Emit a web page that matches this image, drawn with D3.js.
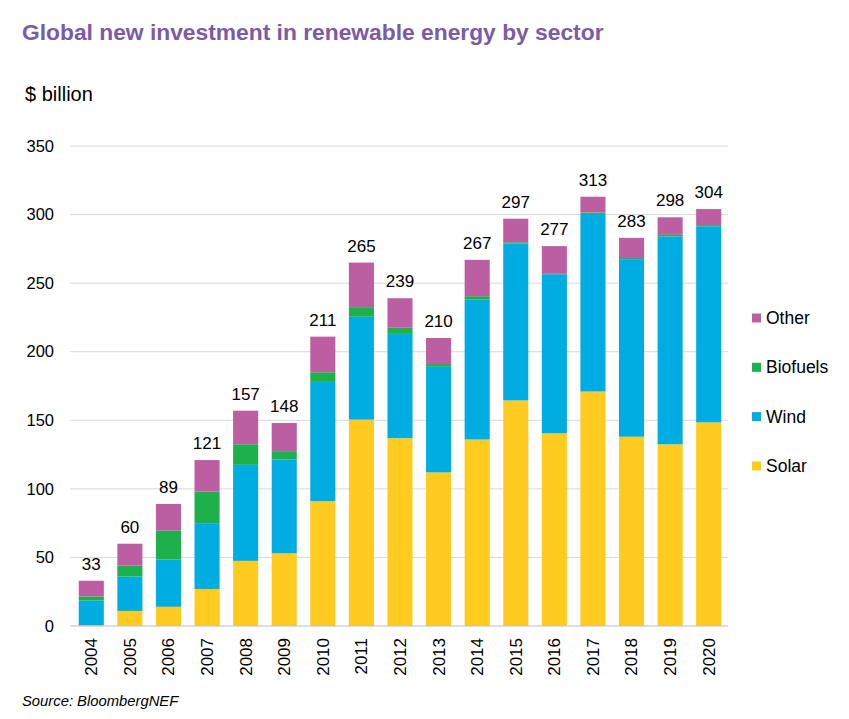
<!DOCTYPE html>
<html><head><meta charset="utf-8">
<script src="https://cdn.jsdelivr.net/npm/d3@7"></script>
<style>body{margin:0;background:#fff;} svg{display:block;font-family:"Liberation Sans",Arial,sans-serif;}</style>
</head><body>
<svg id="c" width="849" height="719"></svg>
<script>
const years = ["2004","2005","2006","2007","2008","2009","2010","2011","2012","2013","2014","2015","2016","2017","2018","2019","2020"];
const solar    = [0.5, 11, 14, 27, 47.5, 53, 91, 150.5, 137, 112, 136, 164.5, 140.5, 171, 138, 132.5, 148.5];
const wind     = [18, 25, 34.5, 48, 70, 68.5, 87, 75, 76, 77, 102, 114.5, 116, 129.5, 129.5, 151.5, 143];
const biofuels = [3, 8, 21, 23, 15, 6, 7, 7, 4.5, 2, 2.5, 0.8, 0.3, 1, 0.8, 1.2, 0.8];
const other    = [11.5, 16, 19.5, 23, 24.5, 20.5, 26, 32.5, 21.5, 19, 26.5, 17.2, 20.2, 11.5, 14.7, 12.8, 11.7];
const totals   = [33, 60, 89, 121, 157, 148, 211, 265, 239, 210, 267, 297, 277, 313, 283, 298, 304];
const yTicks   = [0, 50, 100, 150, 200, 250, 300, 350];
const seriesNames = ["Solar", "Wind", "Biofuels", "Other"];
const seriesColors = ["#FECB1E", "#00ADE3", "#1DB04B", "#BC5EA2"];

const svg = d3.select("#c");
const x = d3.scaleBand().domain(years).range([72, 728]).paddingInner(0.35).paddingOuter(0.175);
const y = d3.scaleLinear().domain([0, 350]).range([626, 146]);

const rows = years.map((yr, i) => ({year: yr, Solar: solar[i], Wind: wind[i], Biofuels: biofuels[i], Other: other[i]}));
const stack = d3.stack().keys(seriesNames)(rows);

// gridlines
svg.append("g").selectAll("line").data(yTicks.filter(d => d > 0)).join("line")
  .attr("x1", 70).attr("x2", 728).attr("y1", d => y(d)).attr("y2", d => y(d))
  .attr("stroke", "#d9d9d9").attr("stroke-width", 1);

// y axis
const yAxis = svg.append("g").attr("transform", "translate(54,0)")
  .call(d3.axisLeft(y).tickValues(yTicks).tickSize(0).tickPadding(0));
yAxis.select(".domain").remove();
yAxis.selectAll("text").attr("font-size", 16.5).attr("fill", "#000").attr("font-family", "Liberation Sans, Arial, sans-serif");

// bars
svg.append("g").selectAll("g").data(stack).join("g")
  .attr("fill", (d, i) => seriesColors[i])
  .selectAll("rect").data(d => d).join("rect")
  .attr("x", d => x(d.data.year))
  .attr("width", x.bandwidth())
  .attr("y", d => y(d[1]))
  .attr("height", d => Math.max(0, y(d[0]) - y(d[1])));

// baseline
svg.append("line").attr("x1", 70).attr("x2", 728).attr("y1", y(0)).attr("y2", y(0))
  .attr("stroke", "#bfbfbf").attr("stroke-width", 1);

// x axis labels
const xAxis = svg.append("g").attr("transform", `translate(0,${y(0)})`)
  .call(d3.axisBottom(x).tickSize(0).tickPadding(0));
xAxis.select(".domain").remove();
xAxis.selectAll("text")
  .attr("font-size", 17).attr("fill", "#000").attr("font-family", "Liberation Sans, Arial, sans-serif")
  .attr("transform", "rotate(-90)")
  .attr("text-anchor", "end")
  .attr("dy", "0.35em")
  .attr("x", -12).attr("y", 0);

// totals
svg.append("g").selectAll("text").data(years).join("text")
  .attr("x", d => x(d) + x.bandwidth() / 2)
  .attr("y", (d, i) => y(totals[i]) - 11)
  .attr("text-anchor", "middle").attr("font-size", 17).attr("fill", "#000")
  .text((d, i) => totals[i]);

// title
svg.append("text").attr("x", 22).attr("y", 40).attr("font-size", 22.8).attr("font-weight", "bold")
  .attr("fill", "#7B5AA8").text("Global new investment in renewable energy by sector");
svg.append("text").attr("x", 25).attr("y", 101).attr("font-size", 20).attr("fill", "#000").text("$ billion");

// legend
const legendOrder = [3, 2, 1, 0];
const lg = svg.append("g").selectAll("g").data(legendOrder).join("g")
  .attr("transform", (d, i) => `translate(752,${318 + i * 49.3})`);
lg.append("rect").attr("x", 0).attr("y", -4.5).attr("width", 9).attr("height", 9).attr("fill", d => seriesColors[d]);
lg.append("text").attr("x", 14).attr("y", 0).attr("dy", "0.35em").attr("font-size", 17.5).attr("fill", "#000")
  .text(d => seriesNames[d]);

// source
svg.append("text").attr("x", 22).attr("y", 706).attr("font-size", 14.8).attr("font-style", "italic")
  .attr("fill", "#000").text("Source: BloombergNEF");
</script>
</body></html>
